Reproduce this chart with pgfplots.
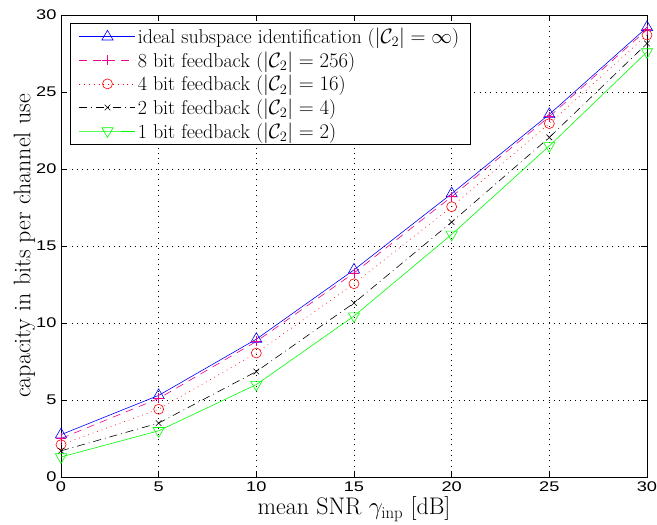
\documentclass[border=0pt]{standalone}
\usepackage{pgfplots}
\pgfplotsset{compat=1.18}
\usepackage{fontspec}
\newfontfamily\ticksfont[FakeStretch=1.3]{Liberation Sans}

\begin{document}
\begin{tikzpicture}
% fixed picture frame around the axis
\path[use as bounding box] (-61pt,-48pt) rectangle (596pt,477pt);
\begin{axis}[
  at={(0pt,0pt)}, anchor=south west,
  scale only axis, width=586pt, height=462pt,
  xmin=0, xmax=30, ymin=0, ymax=30,
  xtick={0,5,...,30}, ytick={0,5,...,30},
  tick align=inside, major tick length=6pt,
  tick style={black, line width=0.5pt},
  axis line style={line width=0.8pt},
  grid=major,
  major grid style={black, dash pattern=on 0.8pt off 4.5pt, line width=0.6pt},
  tick label style={font=\ticksfont\fontsize{14}{14}\selectfont},
  /pgf/number format/assume math mode=true,
  xticklabel style={yshift=-1pt},
  yticklabel style={xshift=-1pt},
  xlabel={mean SNR $\gamma_{\mathrm{inp}}$ [dB]},
  ylabel={capacity in bits per channel use},
  xlabel style={font=\fontsize{24}{26}\selectfont, yshift=1.5pt},
  ylabel style={font=\fontsize{24}{26}\selectfont, yshift=-6pt},
  legend style={at={(0.015,0.983)}, anchor=north west,
    draw=black, line width=0.8pt, fill=white,
    font=\fontsize{20}{22}\selectfont,
    row sep=2.5pt, inner xsep=9pt, inner ysep=3pt},
  legend cell align=left,
  legend image code/.code={
    \draw[mark repeat=2, mark phase=2]
      plot coordinates {(0pt,0pt) (28pt,0pt) (56pt,0pt)};
  },
  every axis plot/.append style={line width=0.6pt, mark size=5pt},
]
% ideal subspace identification
\addplot[blue, mark=triangle, mark options={solid, mark size=6.5pt}] coordinates {
  (0,2.75) (5,5.3) (10,8.95) (15,13.45) (20,18.4) (25,23.55) (30,29.2)};
\addlegendentry{ideal subspace identification ($|\mathcal{C}_2| = \infty$)}
% 8 bit feedback
\addplot[magenta, dash pattern=on 8pt off 6pt, mark=+, mark options={solid}] coordinates {
  (0,2.5) (5,5.1) (10,8.8) (15,13.25) (20,18.2) (25,23.4) (30,29.05)};
\addlegendentry{8 bit feedback ($|\mathcal{C}_2| = 256$)}
% 4 bit feedback
\addplot[red, dash pattern=on 0.8pt off 4pt, mark=o, mark options={solid}] coordinates {
  (0,2.1) (5,4.4) (10,8.05) (15,12.55) (20,17.55) (25,22.95) (30,28.7)};
\addlegendentry{4 bit feedback ($|\mathcal{C}_2| = 16$)}
% 2 bit feedback
\addplot[black, dash pattern=on 8pt off 4pt on 0.8pt off 4pt, mark=x, mark options={solid, mark size=4pt}] coordinates {
  (0,1.7) (5,3.5) (10,6.85) (15,11.3) (20,16.55) (25,22.05) (30,28.15)};
\addlegendentry{2 bit feedback ($|\mathcal{C}_2| = 4$)}
% 1 bit feedback
\addplot[green, mark=triangle, mark options={solid, rotate=180, mark size=6.5pt}] coordinates {
  (0,1.3) (5,3.0) (10,6.0) (15,10.45) (20,15.75) (25,21.5) (30,27.6)};
\addlegendentry{1 bit feedback ($|\mathcal{C}_2| = 2$)}
\end{axis}
\end{tikzpicture}
\end{document}
